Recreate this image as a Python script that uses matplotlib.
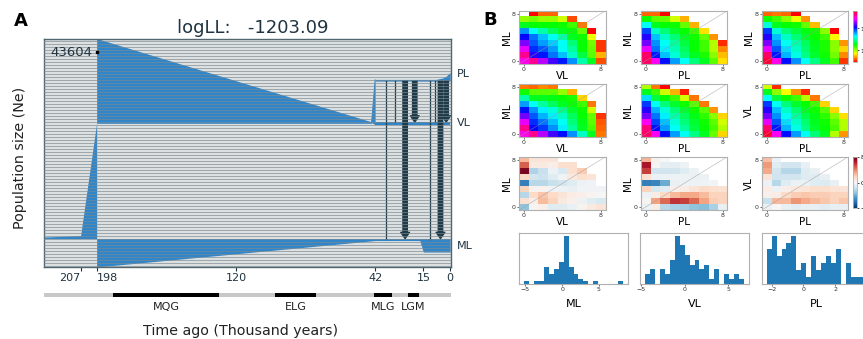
import numpy as np
import matplotlib
matplotlib.use('Agg')
import matplotlib.pyplot as plt
from matplotlib.transforms import blended_transform_factory

W, H = 863, 339
nan = np.nan


def px_box(x0, y0, x1, y1):
    # figure pixel box -> fraction rect
    return [x0 / W, 1 - y1 / H, (x1 - x0) / W, (y1 - y0) / H]


def grid(rows):
    # rows given top (8) to bottom (0), short rows are masked on the right
    return np.array([list(r) + [nan] * (9 - len(r)) for r in rows], dtype=float)


#%% panel A: demographic model (time in thousand years ago)
anc_t = [227.5, 207, 198]
anc_lo = [28.5, 28.5, 28.5]
anc_hi = [30.0, 31.5, 144.5]

ml_t = [198, 42, 17, 15, 0]
ml_lo = [0, 26.5, 26.5, 15, 15]
ml_hi = [28.5, 28.5, 28.5, 28.5, 28.5]

vlpl_t = [198, 44]
vlpl_lo = [144, 144]
vlpl_hi = [229, 145.5]

split_t = [44, 42, 42]
split_y = [145, 188, 143]

vl_t = [42, 0]
vl_lo = [142.7, 142.7]
vl_hi = [145.3, 145.3]

pl_t = [42, 8, 4, 2, 0]
pl_lo = [186.3, 186.3, 186.3, 186.3, 186.3]
pl_hi = [188, 188, 189.5, 191.5, 195]

mig_t = [36.0, 30.6, 25.2, 19.8, 11.4, 8.4, 5.4, 2.2]
mig_to = ['ML', 'VL', 'ML', 'VL', 'ML', 'VL', 'ML', 'VL']
mig_thick = [False, False, True, True, False, False, True, True]

time_ticks = [207, 198, 120, 42, 15, 0]
ne_label = '43604'
ne_pos = (198, 215)

periods = ['MQG', 'ELG', 'MLG', 'LGM']
period_start = [189, 98, 42.6, 23.5]
period_end = [129.4, 75, 32.5, 17.4]

#%% panel B: log10 SFS (data, model) and residuals
data_ml_vl = grid([
    [nan, 0.44, 0.60, 0.60],
    [1.00, 1.05, 1.00, 1.00, 0.91, 0.56],
    [1.28, 1.23, 1.23, 1.23, 1.21, 1.14, 0.63],
    [1.79, 1.61, 1.49, 1.37, 1.28, 1.23, 1.07, 0.44],
    [2.02, 1.84, 1.72, 1.61, 1.49, 1.28, 1.21, 0.86],
    [2.21, 1.88, 1.77, 1.70, 1.61, 1.42, 1.23, 1.05, 0.53],
    [2.37, 1.95, 1.88, 1.77, 1.61, 1.47, 1.23, 1.07, 0.53],
    [2.58, 2.07, 1.98, 1.84, 1.72, 1.54, 1.33, 1.09, 0.72],
    [2.44, 2.58, 2.30, 2.12, 1.98, 1.79, 1.49, 1.28, 0.56]])
data_ml_pl = grid([
    [0.60, 0.60, 0.44],
    [1.21, 1.09, 1.07, 0.91, 0.72],
    [1.61, 1.28, 1.23, 1.21, 1.07, 0.72],
    [1.91, 1.54, 1.42, 1.30, 1.23, 1.14, 0.79],
    [2.07, 1.72, 1.54, 1.42, 1.28, 1.21, 1.07, 0.67],
    [2.19, 1.79, 1.61, 1.47, 1.33, 1.23, 1.14, 0.95, 0.51],
    [2.37, 1.84, 1.65, 1.51, 1.37, 1.23, 1.14, 0.95, 0.65],
    [2.65, 1.98, 1.72, 1.56, 1.42, 1.28, 1.19, 1.02, 0.74],
    [2.65, 2.42, 2.00, 1.77, 1.61, 1.42, 1.28, 1.09, 0.79]])
data_vl_pl = grid([
    [0.60, 0.63, 0.60, 0.44],
    [1.21, 1.14, 1.02, 0.86, 0.67],
    [1.56, 1.28, 1.23, 1.21, 1.07, 0.74],
    [1.93, 1.56, 1.42, 1.33, 1.26, 1.21, 1.02, 0.44],
    [2.07, 1.72, 1.54, 1.42, 1.30, 1.23, 1.14, 0.84],
    [2.21, 1.79, 1.61, 1.49, 1.37, 1.26, 1.19, 1.02, 0.67],
    [2.37, 1.88, 1.67, 1.54, 1.40, 1.28, 1.19, 1.02, 0.77],
    [2.65, 1.98, 1.74, 1.58, 1.44, 1.30, 1.21, 1.05, 0.65],
    [2.72, 2.44, 2.00, 1.79, 1.61, 1.44, 1.28, 1.14, 0.53]])

model_ml_vl = grid([
    [0.63, 0.60, 0.65, 0.63],
    [1.21, 1.09, 1.09, 1.09, 1.00, 0.72],
    [1.49, 1.28, 1.28, 1.26, 1.23, 1.19, 0.77],
    [1.77, 1.61, 1.47, 1.37, 1.28, 1.23, 1.14, 0.63],
    [2.00, 1.79, 1.65, 1.56, 1.44, 1.30, 1.21, 0.91],
    [2.19, 1.88, 1.74, 1.65, 1.54, 1.37, 1.23, 1.07, 0.53],
    [2.37, 1.95, 1.84, 1.72, 1.61, 1.42, 1.26, 1.09, 0.58],
    [2.58, 2.02, 1.93, 1.79, 1.65, 1.47, 1.28, 1.12, 0.60],
    [2.44, 2.58, 2.30, 2.12, 2.00, 1.79, 1.54, 1.28, 0.63]])
model_ml_pl = grid([
    [0.95, 0.63, 0.44],
    [1.28, 1.14, 0.91, 0.72, 0.49],
    [1.67, 1.33, 1.23, 1.14, 0.91, 0.63],
    [1.93, 1.61, 1.42, 1.30, 1.21, 1.09, 0.63],
    [2.07, 1.74, 1.56, 1.42, 1.30, 1.21, 1.09, 0.67],
    [2.19, 1.84, 1.65, 1.49, 1.37, 1.26, 1.16, 1.02, 0.77],
    [2.42, 1.91, 1.72, 1.56, 1.42, 1.30, 1.21, 1.09, 0.91],
    [2.61, 2.00, 1.77, 1.61, 1.47, 1.33, 1.23, 1.12, 0.95],
    [2.65, 2.42, 2.00, 1.77, 1.61, 1.44, 1.28, 1.07, 0.77]])
model_vl_pl = grid([
    [0.91, 0.51],
    [1.28, 1.02, 0.84, 0.67, 0.51],
    [1.61, 1.33, 1.21, 1.14, 0.95, 0.63],
    [1.93, 1.61, 1.42, 1.30, 1.23, 1.14, 0.77],
    [2.07, 1.72, 1.54, 1.40, 1.28, 1.21, 1.09, 0.77],
    [2.19, 1.79, 1.61, 1.47, 1.35, 1.26, 1.16, 1.02, 0.79],
    [2.37, 1.88, 1.67, 1.54, 1.40, 1.28, 1.21, 1.09, 0.95],
    [2.63, 1.98, 1.74, 1.58, 1.44, 1.30, 1.23, 1.12, 0.95],
    [2.72, 2.42, 2.00, 1.77, 1.61, 1.42, 1.28, 0.95, 0.67]])

resid_ml_vl = grid([
    [2.6, 1.0, 1.0, 1.0],
    [4.8, 0.7, 0.7, 0.5, 1.3, 1.3],
    [7.5, -2.5, -1.8, -0.5, -1.2, 1.3, 2.0],
    [1.6, -1.5, -1.7, -1.0, -0.3, 0.8, 1.3, 1.0],
    [-5.5, -2.2, -2.2, -1.8, -1.5, -1.0, -0.5, -0.3],
    [1.8, 0.3, 0.3, -0.3, -0.5, -0.6, -0.3, -0.3, -0.3],
    [-2.3, 1.6, 2.2, 1.6, 1.0, 0.6, 0.4, 0.2, 0.0],
    [1.3, 0.5, 2.5, 1.8, 0.8, 0.4, -0.5, -1.0, -1.2],
    [-3.2, 0.2, 0.4, -1.0, -1.0, -0.6, 0.3, 0.8, 1.0]])
resid_ml_pl = grid([
    [2.7, 0.3, 0.0],
    [6.5, 0.2, -0.8, -0.8, -0.4],
    [5.5, -1.5, -1.5, -1.5, -1.0, -0.5],
    [1.2, -0.5, -0.5, -0.4, -0.4, -0.5, -0.5],
    [-5.5, -5.3, -4.0, -0.6, -0.4, -0.4, -0.3, -0.2],
    [1.8, -1.4, -1.0, 0.4, 0.6, 1.0, 1.5, 1.3, 1.2],
    [-0.5, 0.6, 1.6, 2.6, 3.0, 3.0, 2.5, 1.8, 1.8],
    [0.2, 3.2, 4.5, 5.8, 5.5, 4.6, 3.2, 2.0, 1.8],
    [-0.5, 0.6, -2.2, -2.6, -2.8, -3.2, -3.4, -2.6, -0.6]])
resid_vl_pl = grid([
    [2.4, -0.5],
    [3.4, -1.0, -1.5, -1.5, -0.6],
    [3.0, -1.5, -2.3, -2.3, -1.0, -0.6],
    [1.0, -1.6, -1.5, -1.5, -1.0, -1.0, -0.6],
    [-0.5, -2.2, -1.0, -0.5, -0.5, -1.0, -1.1, -0.6],
    [0.6, -0.5, 0.5, 0.9, 1.1, 1.4, 1.4, 1.1, 1.0],
    [0.4, 0.6, 1.5, 2.0, 2.2, 2.0, 2.0, 1.8, 1.8],
    [-1.8, 2.6, 2.6, 3.5, 3.0, 2.6, 2.2, 1.8, 2.2],
    [-0.5, 0.0, -0.6, -0.9, -0.6, -0.6, -0.9, -0.6, -0.6]])

heat_grids = [[data_ml_vl, data_ml_pl, data_vl_pl],
              [model_ml_vl, model_ml_pl, model_vl_pl],
              [resid_ml_vl, resid_ml_pl, resid_vl_pl]]
heat_xlab = [['VL', 'PL', 'PL'], ['VL', 'PL', 'PL'], ['VL', 'PL', 'PL']]
heat_ylab = [['ML', 'ML', 'ML'], ['ML', 'ML', 'VL'], ['ML', 'ML', 'VL']]

# residual histograms: counts per bin, first/last bin edge
hist_names = ['ML', 'VL', 'PL']
hist_counts = [
    [1, 0, 1, 1, 7, 4, 6, 9, 20, 7, 4, 2, 1, 0, 1, 0, 0, 0, 0, 1],
    [2, 3, 0, 3, 2, 5, 10, 8, 6, 4, 5, 3, 4, 1, 3, 0, 2, 1, 2, 1],
    [5, 7, 4, 5, 6, 7, 2, 3, 1, 4, 2, 3, 4, 3, 5, 0, 3, 1, 1, 1]]
hist_range = [(-5.2, 8.3), (-4.58, 6.8), (-2.32, 3.94)]

#%% figure
fig = plt.figure(figsize=(W / 100, H / 100), dpi=100)
blue = '#2f85cc'
arrow_c = '#1c3947'
dark = '#1f3340'

ax = fig.add_axes(px_box(44, 38.5, 451, 267))
ax.set_facecolor('#e1e4e4')
ax.fill_between(anc_t, anc_lo, anc_hi, color=blue, lw=0, zorder=2)
ax.fill_between(ml_t, ml_lo, ml_hi, color=blue, lw=0, zorder=2)
ax.fill_between(vlpl_t, vlpl_lo, vlpl_hi, color=blue, lw=0, zorder=2)
ax.fill(split_t, split_y, color=blue, lw=0.6, zorder=2)
ax.fill_between(vl_t, vl_lo, vl_hi, color=blue, lw=0, zorder=2)
ax.fill_between(pl_t, pl_lo, pl_hi, color=blue, lw=0, zorder=2)

for t, dst, thick in zip(mig_t, mig_to, mig_thick):
    y1 = vl_hi[0] if dst == 'VL' else ml_hi[0]
    if thick:
        ax.annotate('', xy=(t, y1), xytext=(t, pl_lo[0]), zorder=4,
                    arrowprops=dict(arrowstyle='simple,head_length=0.5,head_width=0.7,tail_width=0.35',
                                    mutation_scale=9, color=arrow_c, shrinkA=0, shrinkB=0))
    else:
        ax.plot([t, t], [pl_lo[0], y1], color=arrow_c, lw=0.9, zorder=4)

# striped background
for y in np.arange(1.5, 229, 3):
    ax.axhline(y, color='#7b898f', lw=0.8, alpha=0.65, zorder=5)

ax.plot([ne_pos[0]], [ne_pos[1]], 's', ms=2, color='k', zorder=6)
ax.text(ne_pos[0] + 2.5, ne_pos[1], ne_label, ha='right', va='center',
        fontsize=9.5, color=dark, zorder=6)

trans = blended_transform_factory(ax.transAxes, ax.transData)
for name, y in [('PL', 193), ('VL', 144), ('ML', 21)]:
    ax.text(1.014, y, name, transform=trans, ha='left', va='center', fontsize=8, color=dark)

ax.set_xlim(227.5, -0.5)
ax.set_ylim(0, 229)
ax.set_yticks([])
ax.set_xticks(time_ticks)
ax.set_xticklabels([str(t) for t in time_ticks])
ax.tick_params(axis='x', length=3, width=0.8, labelsize=8, pad=1.5, colors=dark)
tl = ax.get_xticklabels()
tl[0].set_ha('right')
tl[1].set_ha('left')
for s in ax.spines.values():
    s.set_color('#52666f')
    s.set_linewidth(1)

# glaciation periods
axp = fig.add_axes(px_box(44, 292.5, 451, 297))
axp.set_xlim(227.5, -0.5)
axp.set_ylim(0, 1)
axp.set_facecolor('#c8c8c8')
axp.set_xticks([])
axp.set_yticks([])
for s in axp.spines.values():
    s.set_visible(False)
ptrans = blended_transform_factory(axp.transData, axp.transAxes)
for name, a, b in zip(periods, period_start, period_end):
    axp.axvspan(a, b, color='k', lw=0)
    axp.text((a + b) / 2, -2.3, name, transform=ptrans, ha='center', va='center',
             fontsize=8, color='#222222')

fig.text(241 / W, 1 - 331 / H, 'Time ago (Thousand years)', ha='center', va='center',
         fontsize=10.3, color='#222222')
fig.text(20 / W, 1 - 158 / H, 'Population size (Ne)', rotation=90, ha='center',
         va='center', fontsize=10.3, color='#222222')
fig.text(253 / W, 1 - 28 / H, 'logLL:   -1203.09', ha='center', va='center',
         fontsize=13, color=dark)
fig.text(21 / W, 1 - 21 / H, 'A', ha='center', va='center', fontsize=13, fontweight='bold')
fig.text(490 / W, 1 - 20 / H, 'B', ha='center', va='center', fontsize=13, fontweight='bold')

#%% panel B heatmaps
cols_x = [519, 640.7, 761.7]
rows_y = [10.7, 83.7, 156.7]
hm_w, hm_h = 86.7, 53.3
spine_c = '#b0b0b0'
for i in range(3):
    for j in range(3):
        x0, y0 = cols_x[j], rows_y[i]
        a = fig.add_axes(px_box(x0, y0, x0 + hm_w, y0 + hm_h))
        if i < 2:
            im = a.imshow(heat_grids[i][j], cmap='hsv', vmin=0.44, vmax=2.77,
                          extent=(-0.5, 8.5, -0.5, 8.5), origin='upper',
                          aspect='auto', interpolation='nearest')
        else:
            im = a.imshow(heat_grids[i][j], cmap='RdBu_r', vmin=-8, vmax=8,
                          extent=(-0.5, 8.5, -0.5, 8.5), origin='upper',
                          aspect='auto', interpolation='nearest')
        a.plot([-0.5, 8.5], [-0.5, 8.5], color='#999999', lw=0.5, alpha=0.6)
        a.set_xlim(-0.5, 8.5)
        a.set_ylim(-0.5, 8.5)
        a.set_xticks([0, 8])
        a.set_yticks([0, 8])
        a.tick_params(labelsize=4.5, length=1.5, width=0.5, pad=1, colors='#333333')
        a.set_xlabel(heat_xlab[i][j], fontsize=7.5, labelpad=-1)
        a.set_ylabel(heat_ylab[i][j], fontsize=7.5, labelpad=0)
        for s in a.spines.values():
            s.set_color(spine_c)
            s.set_linewidth(0.8)
        if j == 2 and i != 1:
            cax = fig.add_axes(px_box(853, y0, 857, y0 + hm_h * 0.97))
            cb = fig.colorbar(im, cax=cax)
            if i == 0:
                cb.set_ticks([1, 2])
                cb.set_ticklabels(['$10^{1}$', '$10^{2}$'])
            else:
                cb.set_ticks([-8, 0, 8])
            cb.ax.tick_params(labelsize=4.5, length=1.5, width=0.5, pad=1)
            cb.outline.set_edgecolor(spine_c)
            cb.outline.set_linewidth(0.6)

#%% panel B residual histograms
hist_x = [519, 640, 761.7]
for k in range(3):
    a = fig.add_axes(px_box(hist_x[k], 233.3, hist_x[k] + 109, 283.7))
    lo, hi = hist_range[k]
    edges = np.linspace(lo, hi, len(hist_counts[k]) + 1)
    a.stairs(hist_counts[k], edges, fill=True, color='#1f77b4')
    r = hi - lo
    a.set_xlim(lo - 0.05 * r, hi + 0.05 * r)
    a.set_ylim(0, max(hist_counts[k]) * 1.05)
    a.set_yticks([])
    a.tick_params(axis='x', labelsize=4.5, length=1.5, width=0.5, pad=1, colors='#333333')
    a.set_xlabel(hist_names[k], fontsize=8, labelpad=5)
    for s in a.spines.values():
        s.set_color(spine_c)
        s.set_linewidth(0.8)

fig.savefig('out.png', dpi=100)
